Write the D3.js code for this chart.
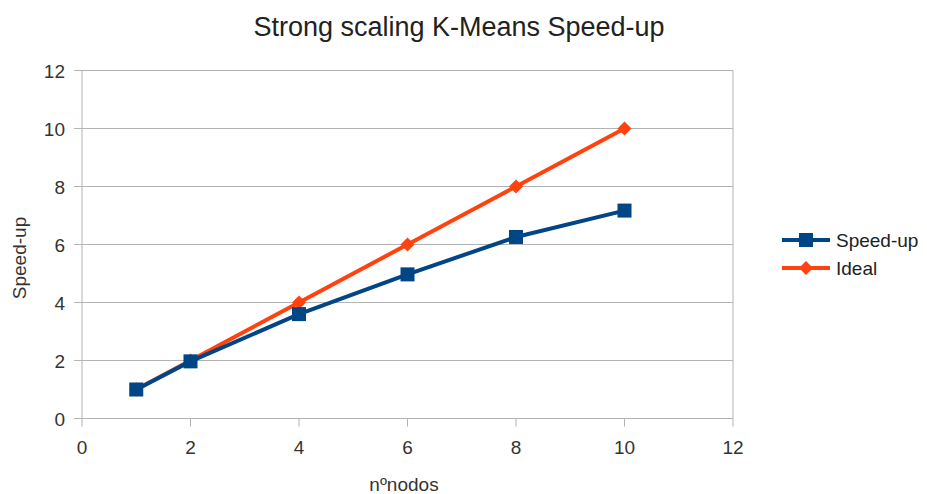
<!DOCTYPE html>
<html>
<head>
<meta charset="utf-8">
<script src="https://cdn.jsdelivr.net/npm/d3@7"></script>
<style>
  body { margin: 0; background: white; }
  text { font-family: "Liberation Sans", Arial, sans-serif; }
</style>
</head>
<body>
<div id="chart"></div>
<script>
const [WIDTH, HEIGHT] = [927, 494];

const nodes = [1, 2, 4, 6, 8, 10];
const speedUp = [1.0, 1.97, 3.6, 4.97, 6.26, 7.17];
const ideal = [1, 2, 4, 6, 8, 10];
const xTicks = [0, 2, 4, 6, 8, 10, 12];
const yTicks = [0, 2, 4, 6, 8, 10, 12];

const SERIES = [
    { name: 'Speed-up', values: speedUp, color: '#004586', marker: 'square' },
    { name: 'Ideal', values: ideal, color: '#ff420e', marker: 'diamond' },
];

const plot = { left: 82, right: 733, top: 70.5, bottom: 418.5 };
const LABEL_SIZE = 19;

const svg = d3.select('#chart').append('svg')
    .attr('width', WIDTH)
    .attr('height', HEIGHT);

const x = d3.scaleLinear().domain([0, 12]).range([plot.left, plot.right]);
const y = d3.scaleLinear().domain([0, 12]).range([plot.bottom, plot.top]);

// gridlines
svg.append('g')
    .selectAll('line')
    .data(yTicks)
    .join('line')
    .attr('x1', plot.left - 8)
    .attr('x2', plot.right)
    .attr('y1', (d) => y(d))
    .attr('y2', (d) => y(d))
    .attr('stroke', '#b3b3b3')
    .attr('stroke-width', 1)

// vertical borders
svg.append('line')
    .attr('x1', plot.left).attr('x2', plot.left)
    .attr('y1', plot.top).attr('y2', plot.bottom + 8)
    .attr('stroke', '#b3b3b3')
svg.append('line')
    .attr('x1', plot.right).attr('x2', plot.right)
    .attr('y1', plot.top).attr('y2', plot.bottom)
    .attr('stroke', '#b3b3b3')

// x axis ticks
svg.append('g')
    .selectAll('line')
    .data(xTicks.slice(1))
    .join('line')
    .attr('x1', (d) => x(d)).attr('x2', (d) => x(d))
    .attr('y1', plot.bottom).attr('y2', plot.bottom + 8)
    .attr('stroke', '#b3b3b3')

svg.append('g')
    .selectAll('text')
    .data(xTicks)
    .join('text')
    .attr('x', (d) => x(d))
    .attr('y', plot.bottom + 35)
    .attr('text-anchor', 'middle')
    .attr('font-size', LABEL_SIZE)
    .attr('fill', '#333')
    .text((d) => d)

svg.append('g')
    .selectAll('text')
    .data(yTicks)
    .join('text')
    .attr('x', plot.left - 17)
    .attr('y', (d) => y(d) + 7)
    .attr('text-anchor', 'end')
    .attr('font-size', LABEL_SIZE)
    .attr('fill', '#333')
    .text((d) => d)

// titles
svg.append('text')
    .attr('x', 459).attr('y', 36)
    .attr('text-anchor', 'middle')
    .attr('font-size', 27)
    .attr('fill', '#222')
    .text('Strong scaling K-Means Speed-up')

svg.append('text')
    .attr('x', 404).attr('y', 491)
    .attr('text-anchor', 'middle')
    .attr('font-size', LABEL_SIZE)
    .attr('fill', '#333')
    .text('nºnodos')

svg.append('text')
    .attr('transform', 'translate(26, 258) rotate(-90)')
    .attr('text-anchor', 'middle')
    .attr('font-size', LABEL_SIZE)
    .attr('fill', '#333')
    .text('Speed-up')

function drawMarker(sel, type, color) {
    if (type === 'square') {
        sel.append('rect')
            .attr('x', -7).attr('y', -7)
            .attr('width', 14).attr('height', 14)
            .attr('fill', color)
    } else {
        sel.append('path')
            .attr('d', 'M0,-7L7,0L0,7L-7,0Z')
            .attr('fill', color)
    }
}

const line = d3.line()
    .x((d) => x(d[0]))
    .y((d) => y(d[1]))

// draw Ideal first, then Speed-up on top
SERIES.slice().reverse().forEach((s) => {
    const pts = nodes.map((n, i) => [n, s.values[i]]);
    svg.append('path')
        .datum(pts)
        .attr('d', line)
        .attr('fill', 'none')
        .attr('stroke', s.color)
        .attr('stroke-width', 4)
        .attr('stroke-linejoin', 'round')

    svg.append('g')
        .selectAll('g')
        .data(pts)
        .join('g')
        .attr('transform', (d) => `translate(${x(d[0])}, ${y(d[1])})`)
        .each(function () { drawMarker(d3.select(this), s.marker, s.color); })
})

// legend
const legend = svg.append('g')
    .selectAll('g')
    .data(SERIES)
    .join('g')
    .attr('transform', (d, i) => `translate(782, ${240 + i * 28})`)

legend.append('line')
    .attr('x1', 0).attr('x2', 48)
    .attr('stroke', (d) => d.color)
    .attr('stroke-width', 4)
legend.each(function (d) {
    const g = d3.select(this).append('g').attr('transform', 'translate(24,0)');
    drawMarker(g, d.marker, d.color);
})
legend.append('text')
    .attr('x', 54).attr('y', 7)
    .attr('font-size', LABEL_SIZE)
    .attr('fill', '#222')
    .text((d) => d.name)
</script>
</body>
</html>
